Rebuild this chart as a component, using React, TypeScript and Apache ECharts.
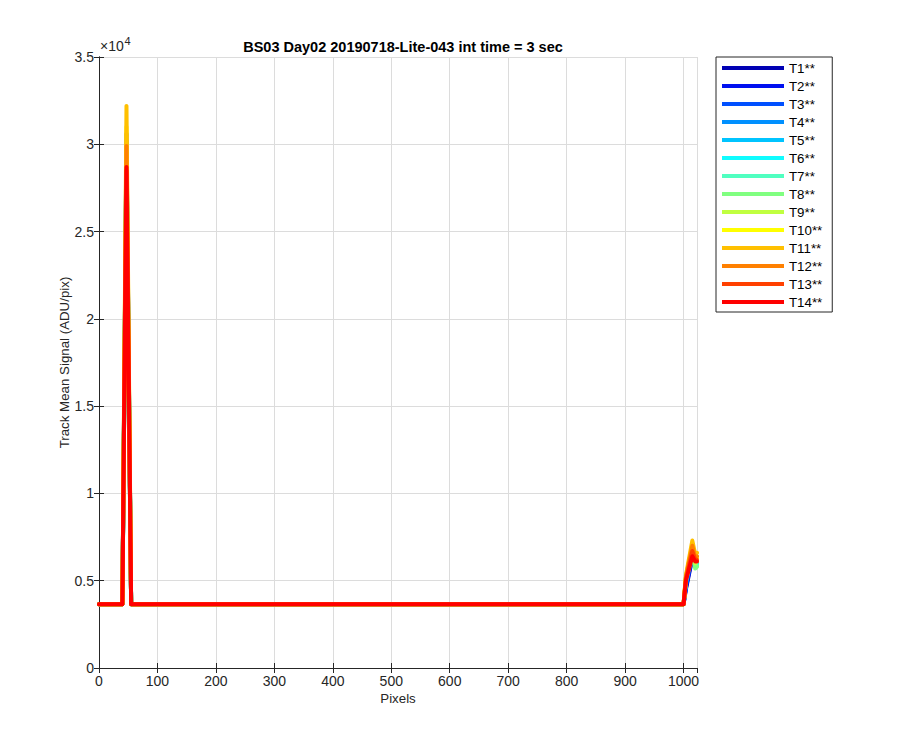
import React, { useEffect, useRef } from "react";
import * as echarts from "echarts";

const seriesNames = ["T1**", "T2**", "T3**", "T4**", "T5**", "T6**", "T7**", "T8**", "T9**", "T10**", "T11**", "T12**", "T13**", "T14**"];
const seriesColors = ["#0000b4", "#0010f0", "#0050ff", "#0090ff", "#00c4ff", "#10fcff", "#50ffc0", "#80ff80", "#c0ff40", "#ffff00", "#ffc000", "#ff8000", "#ff4000", "#ff0000"];
// key x positions (pixels) of each trace
const keyPixels = [0, 40, 47, 55, 1000, 1004, 1015, 1020, 1023];
// values read at those pixels, per trace
const baseline = [3650, 3650, 3650, 3650, 3650, 3650, 3650, 3650, 3650, 3650, 3650, 3650, 3650, 3650];
const leftPeak = [30200, 30600, 29800, 29500, 29000, 28800, 28500, 28400, 29000, 31000, 32200, 29900, 28500, 28700];
const rightRise = [4500, 4600, 4700, 4800, 4900, 5000, 5000, 5000, 5100, 5200, 5300, 5200, 5100, 5000];
const rightPeak = [6300, 6400, 6500, 6600, 6700, 6800, 6700, 6500, 6900, 7100, 7300, 7000, 6700, 6400];
const rightDip = [5900, 5900, 6000, 6000, 5900, 5800, 5800, 5700, 6000, 6200, 6500, 6300, 6200, 6100];
const rightEnd = [6000, 6000, 6100, 6100, 6000, 5900, 5900, 5800, 6100, 6300, 6600, 6400, 6200, 6100];
const yTicks = [0, 5000, 10000, 15000, 20000, 25000, 30000, 35000];

const FONT = "Liberation Sans, Arial, Helvetica, sans-serif";
const AX = "#262626";
const FS = 13.3;

export default function App() {
  const ref = useRef<HTMLDivElement>(null);
  useEffect(() => {
    if (!ref.current) return;
    const chart = echarts.init(ref.current, undefined, { renderer: "svg" });
    const series = seriesNames.map((name, i) => {
      const vals = [baseline[i], baseline[i], leftPeak[i], baseline[i], baseline[i], rightRise[i], rightPeak[i], rightDip[i], rightEnd[i]];
      return {
        name,
        type: "line",
        showSymbol: false,
        symbol: "none",
        lineStyle: { width: 4, color: seriesColors[i], join: "round", cap: "round" },
        itemStyle: { color: seriesColors[i] },
        data: keyPixels.map((x, k) => [x, vals[k]]),
        z: 2 + i,
      };
    });
    const commonAxis = {
      axisLine: { show: true, lineStyle: { color: AX, width: 1 } },
      axisTick: { show: true, inside: true, length: 5, lineStyle: { color: AX } },
    };
    chart.setOption({
      animation: false,
      backgroundColor: "#ffffff",
      textStyle: { fontFamily: FONT },
      title: {
        text: "BS03 Day02 20190718-Lite-043 int time = 3 sec",
        left: 398,
        top: 34,
        textAlign: "center",
        textStyle: { fontSize: 14.5, fontWeight: "bold", color: "#000", fontFamily: FONT },
      },
      grid: { left: 99, top: 57, right: 203, bottom: 82, containLabel: false },
      legend: {
        orient: "vertical",
        left: 716,
        top: 57,
        padding: [4, 10, 3, 6],
        borderColor: AX,
        borderWidth: 1,
        backgroundColor: "#fff",
        itemWidth: 62,
        itemHeight: 4,
        itemGap: 4,
        icon: "rect",
        data: seriesNames,
        textStyle: { fontSize: FS, color: "#000", fontFamily: FONT, lineHeight: 14, padding: [0, 0, 0, 0] },
      },
      xAxis: [
        {
          type: "value",
          min: 0,
          max: 1023,
          interval: 100,
          name: "Pixels",
          nameLocation: "middle",
          nameGap: 24,
          nameMoveOverlap: false,
          nameTextStyle: { fontSize: FS, color: AX, fontFamily: FONT },
          ...commonAxis,
          axisLabel: {
            fontSize: 14,
            color: AX,
            margin: 6,
            showMaxLabel: false,
            formatter: (v: number) => (v % 100 === 0 ? String(v) : ""),
          },
          splitLine: { show: true, lineStyle: { color: "#dcdcdc", width: 1 } },
        },
        {
          type: "value",
          position: "top",
          min: 0,
          max: 1023,
          interval: 100,
          ...commonAxis,
          axisLabel: { show: false },
          splitLine: { show: false },
        },
      ],
      yAxis: [
        {
          type: "value",
          min: yTicks[0],
          max: yTicks[yTicks.length - 1],
          interval: 5000,
          name: "Track Mean Signal (ADU/pix)",
          nameLocation: "middle",
          nameGap: 28,
          nameMoveOverlap: false,
          nameTextStyle: { fontSize: FS, color: AX, fontFamily: FONT },
          ...commonAxis,
          axisLabel: {
            fontSize: 14,
            color: AX,
            margin: 5,
            formatter: (v: number) => String(v / 10000),
          },
          splitLine: { show: true, lineStyle: { color: "#dcdcdc", width: 1 } },
        },
        {
          type: "value",
          position: "right",
          min: yTicks[0],
          max: yTicks[yTicks.length - 1],
          interval: 5000,
          ...commonAxis,
          axisLabel: { show: false },
          splitLine: { show: false },
        },
      ],
      graphic: [
        {
          type: "text",
          left: 100,
          top: 39,
          style: { text: "×10", fontSize: 14, fill: AX, fontFamily: FONT },
        },
        {
          type: "text",
          left: 124.5,
          top: 35,
          style: { text: "4", fontSize: 11, fill: AX, fontFamily: FONT },
        },
      ],
      series,
    });
    return () => chart.dispose();
  }, []);
  return <div ref={ref} style={{ position: "fixed", left: 0, top: 0, width: 900, height: 750 }} />;
}
